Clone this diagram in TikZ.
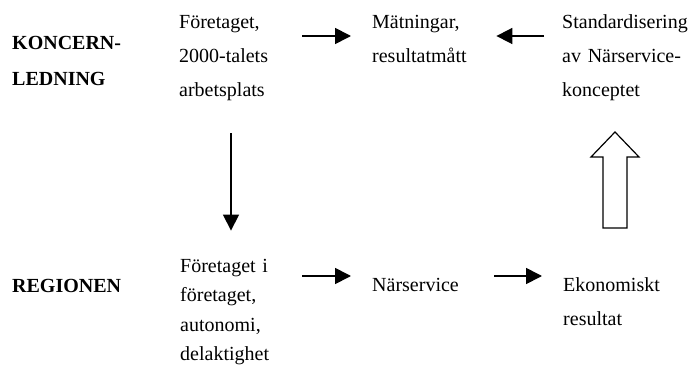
\documentclass[tikz,border=0pt]{standalone}
\usepackage{fontspec}
\setmainfont{Liberation Serif}
\usetikzlibrary{positioning}
\usetikzlibrary{arrows.meta}

\tikzset{txt/.style={anchor=base west, align=left, inner sep=0pt, text width=#1,
    font=\fontsize{20}{34}\selectfont},
  lvl/.style={anchor=base west, align=left, inner sep=0pt, text width=130pt,
    font=\fontsize{20}{36}\selectfont\bfseries},
  arr/.style={-{Triangle[length=16pt,width=16pt]}, line width=1.7pt}}

\begin{document}
\begin{tikzpicture}[x=1pt,y=-1pt]
\useasboundingbox (0,0) rectangle (692,374);
% vänstra kolumnen
\node[lvl] (koncern) at (12,50) {KONCERN-\\LEDNING};
\node[lvl] (region) at (12,292) {REGIONEN};
% övre raden
\node[txt=100pt] (foretag) at (179,29) {Företaget,\\2000-talets\\arbetsplats};
\node[txt=120pt] (matn) at (372,29) {Mätningar,\\resultatmått};
\node[txt=130pt] (standard) at (562,29) {Standardisering\\av Närservice-\\konceptet};
% nedre raden
\node[txt=100pt, font=\fontsize{20}{29.5}\selectfont] (foretagi) at (180,272) {Företaget i\\företaget,\\autonomi,\\delaktighet};
\node[txt=100pt] (narserv) at (372,291) {Närservice};
\node[txt=120pt] (ekon) at (563,291) {Ekonomiskt\\resultat};
\coordinate (toprow) at (0,36);
\coordinate (botrow) at (0,276);
\coordinate (downx) at (231,0);
\draw[arr, shorten <=23pt, shorten >=21pt] (foretag.east |- toprow) -- (matn.west |- toprow);
\draw[arr, shorten <=18pt, shorten >=4pt] (standard.west |- toprow) -- (matn.east |- toprow);
\draw[arr, shorten <=22pt, shorten >=21pt] (foretagi.east |- botrow) -- (narserv.west |- botrow);
\draw[arr, shorten <=22pt, shorten >=21pt] (narserv.east |- botrow) -- (ekon.west |- botrow);
\draw[arr, shorten <=32pt, shorten >=28pt] (foretag.south -| downx) -- (foretagi.north -| downx);
% blockpil
\draw[line width=1.2pt] (603,228) -- (603,157) -- (591,157) -- (615,132) -- (639,157)
  -- (627,157) -- (627,228) -- cycle;
\end{tikzpicture}
\end{document}
